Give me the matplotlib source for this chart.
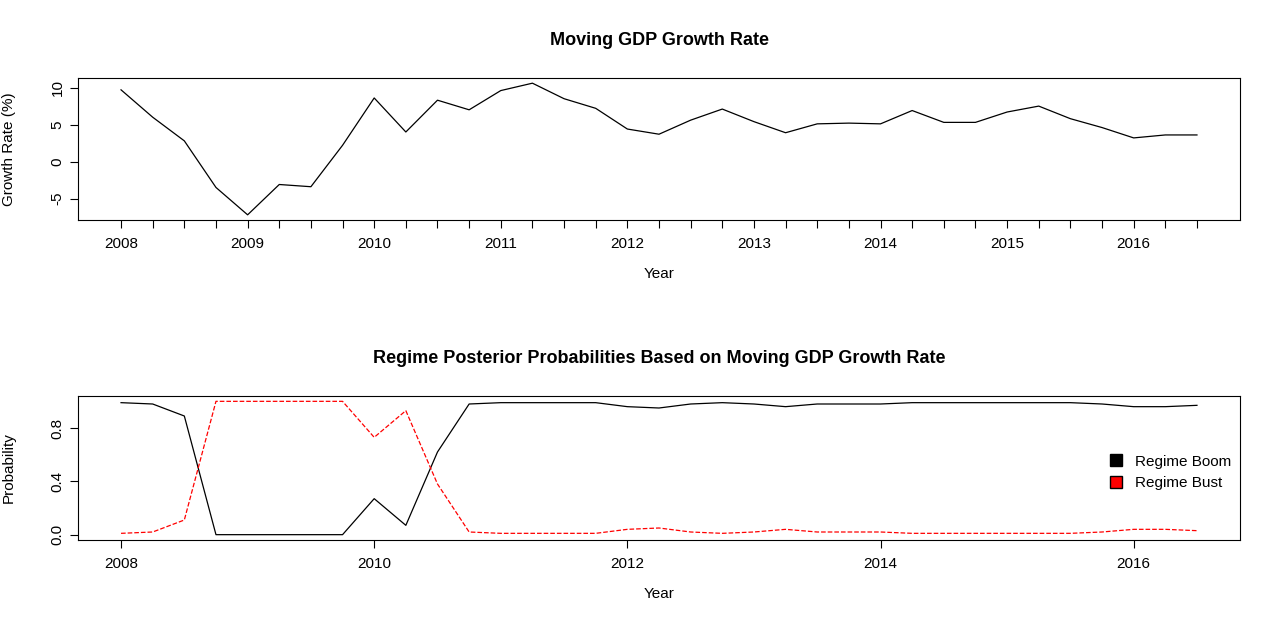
import matplotlib
matplotlib.use("Agg")
import matplotlib.pyplot as plt
import numpy as np
from matplotlib.patches import Patch

plt.rcParams['font.family'] = ['Liberation Sans', 'DejaVu Sans']

t = [2008 + 0.25 * i for i in range(35)]
growth = [9.7, 6.0, 2.8, -3.5, -7.2, -3.1, -3.4, 2.2, 8.6, 4.0, 8.3, 7.0,
          9.6, 10.6, 8.5, 7.2, 4.4, 3.7, 5.6, 7.1, 5.4, 3.9, 5.1, 5.2,
          5.1, 6.9, 5.3, 5.3, 6.7, 7.5, 5.8, 4.6, 3.2, 3.6, 3.6]
boom = [0.99, 0.98, 0.89, 0.0, 0.0, 0.0, 0.0, 0.0, 0.27, 0.07, 0.62, 0.98,
        0.99, 0.99, 0.99, 0.99, 0.96, 0.95, 0.98, 0.99, 0.98, 0.96, 0.98, 0.98,
        0.98, 0.99, 0.99, 0.99, 0.99, 0.99, 0.99, 0.98, 0.96, 0.96, 0.97]
bust = [1 - b for b in boom]

fig = plt.figure(figsize=(12.8, 6.37), dpi=100)
W, H = 1280, 637
ax1 = fig.add_axes([78/W, (H-220)/H, (1240-78)/W, 142/H])
ax2 = fig.add_axes([78/W, (H-540)/H, (1240-78)/W, 144/H])

ax1.plot(t, growth, color='black', lw=0.9)
ax1.set_xlim(2007.66, 2016.84)
ax1.set_xticks(t)
ax1.set_xticklabels([str(int(x)) if x == int(x) else '' for x in t])
ax1.set_ylim(-7.9, 11.3)
ax1.set_yticks([-5, 0, 5, 10])
ax1.set_yticklabels(['-5', '0', '5', '10'], rotation=90, va='center')
ax1.set_xlabel('Year', fontsize=11, labelpad=12)
ax1.set_title('Moving GDP Growth Rate', fontsize=13, fontweight='bold', pad=24)

ax2.plot(t, boom, color='black', lw=0.9)
ax2.plot(t, bust, color='red', lw=0.9, ls='--')
ax2.set_xlim(2007.66, 2016.84)
ax2.set_xticks([2008, 2010, 2012, 2014, 2016])
ax2.set_ylim(-0.04, 1.04)
ax2.set_yticks([0, 0.4, 0.8])
ax2.set_yticklabels(['0.0', '0.4', '0.8'], rotation=90, va='center')
ax2.set_xlabel('Year', fontsize=11, labelpad=12)
ax2.set_title('Regime Posterior Probabilities Based on Moving GDP Growth Rate',
              fontsize=13, fontweight='bold', pad=24)
ax2.legend(handles=[Patch(facecolor='black', edgecolor='black', label='Regime Boom'),
                    Patch(facecolor='red', edgecolor='black', label='Regime Bust')],
           loc='center right', frameon=False, fontsize=11, handlelength=0.8,
           handleheight=0.8, borderaxespad=0.2, bbox_to_anchor=(1.0, 0.47))

ax1.set_ylabel('Growth Rate (%)', fontsize=11)
ax2.set_ylabel('Probability', fontsize=11)
for ax in (ax1, ax2):
    ax.tick_params(labelsize=11, length=6)
    ax.tick_params(axis='x', pad=6)
    ax.yaxis.set_label_coords(-62/1162, 0.5)

fig.savefig('out.png', dpi=100)
